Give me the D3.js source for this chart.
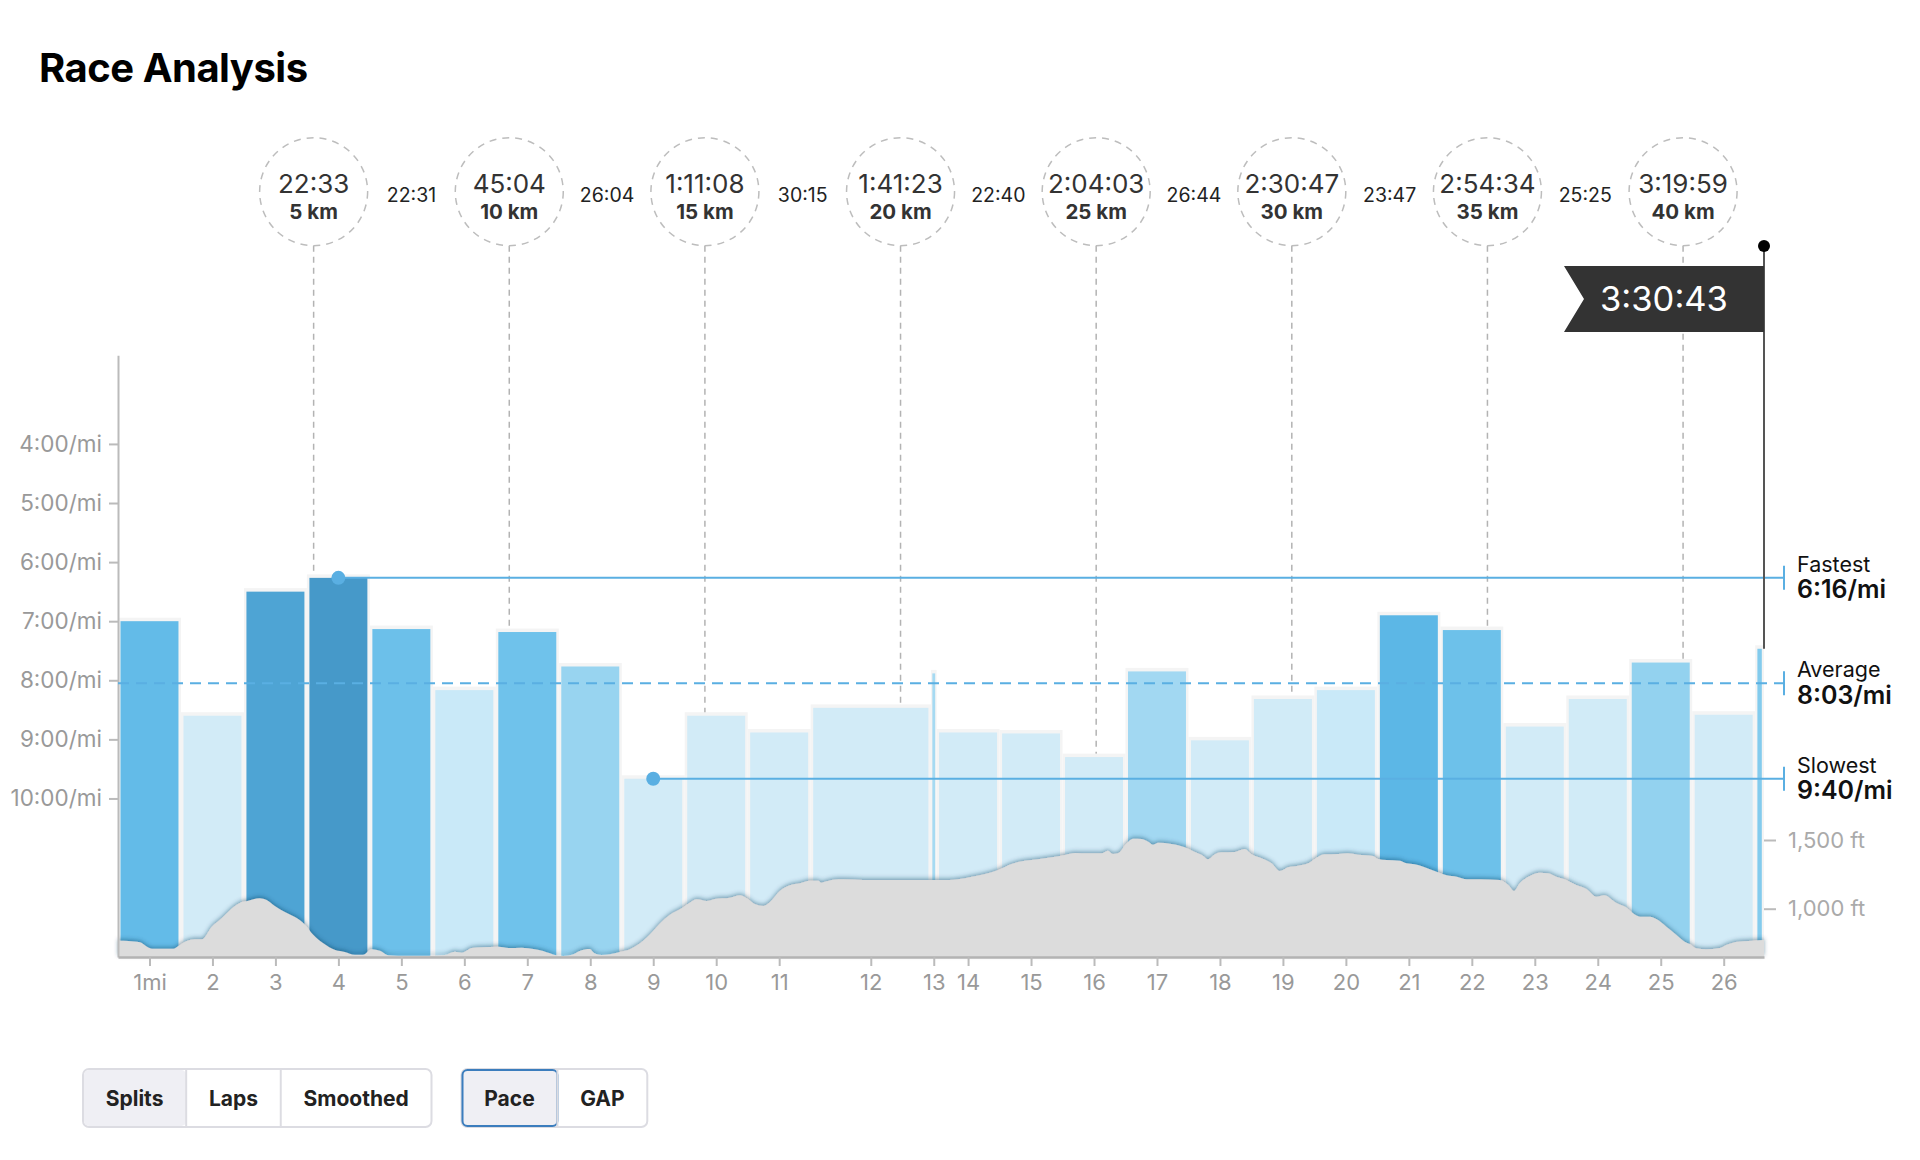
<!DOCTYPE html>
<html>
<head>
<meta charset="utf-8">
<title>Race Analysis</title>
<script src="https://cdn.jsdelivr.net/npm/d3@7"></script>
<style>
body { margin: 0; background: #fff; }
svg text { font-family: Inter, 'Noto Sans', sans-serif; }
</style>
</head>
<body>
<svg id="chart" width="1920" height="1160"></svg>
<script>
// mile splits: label, distance (mi) and pace (sec / mi)
const splitLabels = ['1mi', '2', '3', '4', '5', '6', '7', '8', '9', '10', '11', '12', '13',
    '14', '15', '16', '17', '18', '19', '20', '21', '22', '23', '24', '25', '26', '']
const splitDistances = [1, 1, 1, 1, 1, 1, 1, 1, 1, 1, 1, 1.91, 0.09,
    1, 1, 1, 1, 1, 1, 1, 1, 1, 1, 1, 1, 1, 0.14]
const splitPaces = [420, 516, 390, 376, 428, 490, 431, 466, 580, 516, 533, 508, 473,
    533, 534, 558, 471, 541, 499, 490, 414, 429, 527, 499, 462, 515, 448]

const paceTicks = [240, 300, 360, 420, 480, 540, 600]

// summary
const summaryNames = ['Fastest', 'Average', 'Slowest']
const summaryPaces = [376, 483, 580]
const finishTime = '3:30:43'

// 5 km markers
const markerKm = [5, 10, 15, 20, 25, 30, 35, 40]
const markerTimes = ['22:33', '45:04', '1:11:08', '1:41:23', '2:04:03', '2:30:47', '2:54:34', '3:19:59']
const segmentTimes = ['22:31', '26:04', '30:15', '22:40', '26:44', '23:47', '25:25']

// elevation profile (distance in mi, elevation in ft)
const elevDistance = [0, 0.16, 0.35, 0.46, 0.54, 0.88, 0.96, 1.09, 1.22, 1.33, 1.49, 1.65, 1.83, 1.94,
    2.04, 2.15, 2.25, 2.36, 2.49, 2.65, 2.81, 2.97, 3.1, 3.26, 3.45, 3.6, 3.76, 3.89, 4.03, 4.16,
    4.29, 4.45, 4.93, 5.19, 5.35, 5.46, 5.62, 5.77, 6.04, 6.2, 6.41, 6.62, 6.75, 6.86, 6.94, 7.07,
    7.23, 7.34, 7.49, 7.57, 7.68, 7.81, 7.97, 8.13, 8.29, 8.45, 8.61, 8.76, 8.95, 9.08, 9.19, 9.35,
    9.48, 9.72, 9.88, 10.01, 10.11, 10.25, 10.35, 10.51, 10.67, 10.83, 10.99, 11.12, 11.17, 11.25,
    11.36, 11.52, 11.83, 12.89, 13.21, 13.34, 13.56, 13.77, 13.98, 14.19, 14.4, 14.61, 14.83, 15.04,
    15.2, 15.41, 15.62, 15.72, 15.8, 15.88, 16.02, 16.12, 16.25, 16.36, 16.44, 16.52, 16.73, 16.94,
    17.1, 17.23, 17.31, 17.42, 17.52, 17.74, 17.89, 18, 18.16, 18.32, 18.45, 18.58, 18.74, 18.9,
    19, 19.16, 19.38, 19.53, 19.69, 19.93, 20.01, 20.14, 20.36, 20.46, 20.59, 20.73, 20.94, 21.1,
    21.26, 21.42, 21.63, 21.94, 22.08, 22.17, 22.26, 22.42, 22.58, 22.71, 22.84, 23, 23.16, 23.32,
    23.48, 23.6, 23.79, 23.95, 24.06, 24.17, 24.33, 24.43, 24.59, 24.75, 24.88, 24.96, 25.06, 25.22,
    25.44, 25.54, 25.65, 25.81, 25.97, 26.14]
const elevFeet = [767, 765, 755, 723, 709, 709, 729, 765, 777, 777, 869, 932, 1010, 1044,
    1054, 1068, 1076, 1063, 1020, 976, 939, 883, 810, 748, 699, 685, 665, 665, 705, 694,
    661, 658, 658, 663, 687, 680, 714, 719, 723, 714, 716, 705, 692, 675, 663, 656,
    668, 694, 707, 675, 663, 668, 685, 705, 748, 814, 894, 954, 1003, 1044, 1068, 1056,
    1071, 1080, 1098, 1068, 1034, 1020, 1047, 1129, 1170, 1185, 1204, 1204, 1189, 1199,
    1211, 1214, 1209, 1209, 1209, 1214, 1233, 1253, 1282, 1325, 1349, 1360, 1374, 1391,
    1405, 1403, 1403, 1422, 1398, 1403, 1476, 1509, 1507, 1488, 1466, 1480, 1471, 1447,
    1413, 1386, 1360, 1396, 1410, 1413, 1434, 1396, 1367, 1330, 1274, 1301, 1313, 1330,
    1360, 1396, 1398, 1403, 1393, 1384, 1362, 1354, 1349, 1330, 1323, 1306, 1269, 1243,
    1233, 1214, 1214, 1209, 1172, 1129, 1185, 1238, 1262, 1258, 1233, 1209, 1172, 1143,
    1087, 1098, 1044, 1010, 967, 942, 942, 925, 869, 809, 760, 743, 712, 705,
    714, 736, 753, 763, 767, 772]
const elevTicks = [1000, 1500]

const buttonGroups = [['Splits', 'Laps', 'Smoothed'], ['Pace', 'GAP']]
const selectedButtons = ['Splits', 'Pace']

const kmToMi = 0.621371
const blue = '#5aafe2'
const fontFamily = "Inter, 'Noto Sans', sans-serif"
const fmtPace = (s) => `${Math.floor(s / 60)}:${String(s % 60).padStart(2, '0')}/mi`

const totalDistance = d3.sum(splitDistances)
let acc = 0
const splits = splitPaces.map((pace, i) => {
    const s = { label: splitLabels[i], pace, start: acc, end: acc + splitDistances[i] }
    acc += splitDistances[i]
    return s
})
const elevation = elevDistance.map((d, i) => ({ d, e: elevFeet[i] }))

const svg = d3.select('#chart')

const x = d3.scaleLinear().domain([0, totalDistance]).range([118, 1764])
const y = d3.scaleLinear().domain([150, 761]).range([355.3, 957])
const yElev = d3.scaleLinear().domain([1000, 1500]).range([908.7, 840])
const bottom = y(761)

const paceColor = d3.scaleLinear()
    .domain([376, 414, 431, 466, 490, 500])
    .range(['#4699c9', '#5cb7e6', '#6fc2eb', '#98d4f0', '#c9e9f8', '#d2ebf7'])
    .clamp(true)

const defs = svg.append('defs')
const shadow = defs.append('filter').attr('id', 'elev-shadow')
    .attr('x', '-2%').attr('y', '-10%').attr('width', '104%').attr('height', '120%')
shadow.append('feDropShadow')
    .attr('dx', 0).attr('dy', -1.5)
    .attr('stdDeviation', 2.2)
    .attr('flood-color', '#0b3a5c')
    .attr('flood-opacity', 0.45)

// title
svg.append('text')
    .attr('x', 39).attr('y', 82)
    .attr('font-size', 40).attr('font-weight', 700)
    .attr('letter-spacing', -0.5)
    .attr('fill', '#000')
    .text('Race Analysis')

// 5 km markers
const markerY = 191.7
const markerR = 54
const marker = svg.append('g').selectAll('g')
    .data(markerKm)
    .enter()
    .append('g')
    .attr('transform', (d) => `translate(${x(d * kmToMi)}, 0)`)

marker.append('line')
    .attr('y1', markerY + markerR).attr('y2', bottom)
    .attr('stroke', '#b3b3b3').attr('stroke-width', 1.5)
    .attr('stroke-dasharray', '6,5')

marker.append('circle')
    .attr('cy', markerY).attr('r', markerR)
    .attr('fill', 'none')
    .attr('stroke', '#bdbdbd').attr('stroke-width', 1.5)
    .attr('stroke-dasharray', '7,6')

marker.append('text')
    .attr('y', 193).attr('text-anchor', 'middle')
    .attr('font-size', 26).attr('fill', '#333')
    .text((d, i) => markerTimes[i])

marker.append('text')
    .attr('y', 218.5).attr('text-anchor', 'middle')
    .attr('font-size', 20.5).attr('font-weight', 700).attr('fill', '#333')
    .text((d) => `${d} km`)

svg.append('g').selectAll('text')
    .data(segmentTimes)
    .enter()
    .append('text')
    .attr('x', (d, i) => (x(markerKm[i] * kmToMi) + x(markerKm[i + 1] * kmToMi)) / 2)
    .attr('y', 202)
    .attr('text-anchor', 'middle')
    .attr('font-size', 19.5).attr('fill', '#222')
    .text((d) => d)

// bars
const bar = svg.append('g').selectAll('g')
    .data(splits)
    .enter()
    .append('g')

bar.append('rect')
    .attr('x', (d) => x(d.start))
    .attr('y', (d) => y(d.pace) - 3.5)
    .attr('width', (d) => x(d.end) - x(d.start))
    .attr('height', (d) => bottom - y(d.pace) + 3.5)
    .attr('fill', '#f4f4f4')

bar.append('rect')
    .attr('x', (d) => x(d.start) + Math.min(2.5, (x(d.end) - x(d.start)) / 4))
    .attr('y', (d) => y(d.pace))
    .attr('width', (d) => {
        const w = x(d.end) - x(d.start)
        return w - 2 * Math.min(2.5, w / 4)
    })
    .attr('height', (d) => bottom - y(d.pace))
    .attr('fill', (d) => paceColor(d.pace))

// elevation
const area = d3.area()
    .x((d) => x(d.d))
    .y0(bottom)
    .y1((d) => yElev(d.e))
    .curve(d3.curveMonotoneX)

svg.append('path')
    .datum(elevation)
    .attr('d', area)
    .attr('fill', '#dcdcdc')
    .attr('filter', 'url(#elev-shadow)')

// axes
const yAxis = svg.append('g')
    .attr('transform', `translate(${x(0)}, 0)`)
    .call(d3.axisLeft(y).tickValues(paceTicks).tickFormat(fmtPace).tickSize(9).tickSizeOuter(0).tickPadding(7))
yAxis.select('.domain').attr('stroke', '#bbb').attr('stroke-width', 2)
yAxis.selectAll('.tick line').attr('stroke', '#bbb').attr('stroke-width', 2)
yAxis.selectAll('.tick text')
    .attr('fill', '#999').attr('font-size', 22.5)
    .attr('font-family', fontFamily)

const labelled = splits.filter((d) => d.label)
const xAxis = svg.append('g')
    .attr('transform', `translate(0, ${bottom})`)
    .call(d3.axisBottom(x)
        .tickValues(labelled.map((d) => (d.start + d.end) / 2))
        .tickFormat((d, i) => labelled[i].label)
        .tickSize(9).tickSizeOuter(0).tickPadding(8))
xAxis.select('.domain').attr('stroke', '#b3b3b3').attr('stroke-width', 2.5)
xAxis.selectAll('.tick line').attr('stroke', '#bbb').attr('stroke-width', 2)
xAxis.selectAll('.tick text')
    .attr('fill', '#999').attr('font-size', 22)
    .attr('font-family', fontFamily)

// elevation ticks on the right
const elevAxis = svg.append('g')
    .attr('transform', `translate(${x(totalDistance)}, 0)`)
    .call(d3.axisRight(yElev).tickValues(elevTicks).tickFormat((d) => `${d3.format(',')(d)} ft`)
        .tickSize(12).tickPadding(12))
elevAxis.select('.domain').remove()
elevAxis.selectAll('.tick line').attr('stroke', '#bbb').attr('stroke-width', 2)
elevAxis.selectAll('.tick text')
    .attr('fill', '#aaa').attr('font-size', 22)
    .attr('font-family', fontFamily)

// fastest / average / slowest
const lineEnd = 1784
const fastestSplit = splits.find((d) => d.pace === summaryPaces[0])
const slowestSplit = splits.find((d) => d.pace === summaryPaces[2])
const lineStarts = [
    x((fastestSplit.start + fastestSplit.end) / 2),
    x(0),
    x((slowestSplit.start + slowestSplit.end) / 2)
]

const ref = svg.append('g').selectAll('g')
    .data(summaryPaces)
    .enter()
    .append('g')
    .attr('transform', (d) => `translate(0, ${y(d)})`)

ref.append('line')
    .attr('x1', (d, i) => lineStarts[i]).attr('x2', lineEnd)
    .attr('stroke', blue).attr('stroke-width', 2)
    .attr('stroke-dasharray', (d, i) => i === 1 ? '11,7' : null)

ref.append('line')
    .attr('x1', lineEnd).attr('x2', lineEnd)
    .attr('y1', -12).attr('y2', 12)
    .attr('stroke', blue).attr('stroke-width', 2)

ref.filter((d, i) => i !== 1).append('circle')
    .attr('cx', (d) => lineStarts[summaryPaces.indexOf(d)])
    .attr('r', 7)
    .attr('fill', blue)

ref.append('text')
    .attr('x', 1797).attr('y', -6)
    .attr('font-size', 21.5).attr('fill', '#111')
    .text((d, i) => summaryNames[i])

ref.append('text')
    .attr('x', 1797).attr('y', 20.5)
    .attr('font-size', 25).attr('font-weight', 600).attr('fill', '#111')
    .text((d) => fmtPace(d))

// finish flag
const poleX = x(totalDistance)
const lastSplit = splits[splits.length - 1]
svg.append('line')
    .attr('x1', poleX).attr('x2', poleX)
    .attr('y1', 246).attr('y2', y(lastSplit.pace))
    .attr('stroke', '#555').attr('stroke-width', 2)
svg.append('circle')
    .attr('cx', poleX).attr('cy', 246).attr('r', 6)
    .attr('fill', '#000')
svg.append('path')
    .attr('d', `M${poleX},266 H${poleX - 200} L${poleX - 180},299 L${poleX - 200},332 H${poleX} Z`)
    .attr('fill', '#333')
svg.append('text')
    .attr('x', poleX - 100).attr('y', 311)
    .attr('text-anchor', 'middle')
    .attr('font-size', 34.5).attr('fill', '#fff')
    .text(finishTime)

// toggle buttons
const btnY = 1069
const btnH = 58
let btnX = 83
buttonGroups.forEach((labels) => {
    const g = svg.append('g')
    const texts = labels.map((label) => g.append('text')
        .attr('y', btnY + 37)
        .attr('text-anchor', 'middle')
        .attr('font-size', 21).attr('font-weight', 700).attr('fill', '#222')
        .text(label))
    const widths = texts.map((t) => t.node().getComputedTextLength() + 45.5)
    const groupW = d3.sum(widths)
    g.insert('rect', 'text')
        .attr('x', btnX).attr('y', btnY)
        .attr('width', groupW).attr('height', btnH)
        .attr('rx', 6)
        .attr('fill', '#fff').attr('stroke', '#dcdce2').attr('stroke-width', 2)
    let cx = btnX
    labels.forEach((label, i) => {
        if (selectedButtons.includes(label)) {
            const first = i === 0
            g.insert('rect', 'text')
                .attr('x', cx + 1).attr('y', btnY + 1)
                .attr('width', widths[i] - 1).attr('height', btnH - 2)
                .attr('rx', first ? 5 : 0)
                .attr('fill', '#efeff4')
                .attr('stroke', label === 'Pace' ? '#3b7dbd' : 'none')
                .attr('stroke-width', 2)
        }
        if (i > 0) {
            g.insert('line', 'text')
                .attr('x1', cx).attr('x2', cx)
                .attr('y1', btnY + 1).attr('y2', btnY + btnH - 1)
                .attr('stroke', '#dcdce2').attr('stroke-width', 2)
        }
        texts[i].attr('x', cx + widths[i] / 2)
        cx += widths[i]
    })
    btnX += groupW + 30
})
</script>
</body>
</html>
